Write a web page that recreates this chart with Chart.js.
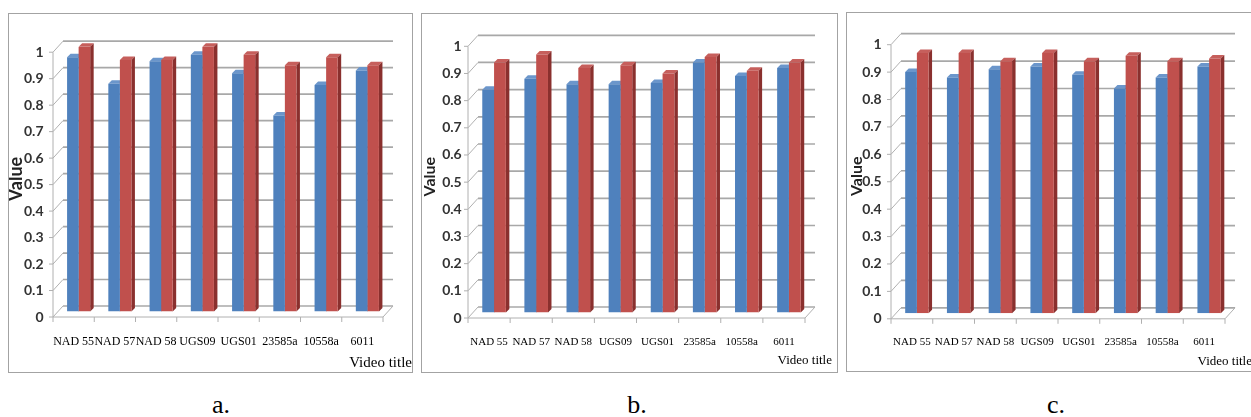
<!DOCTYPE html>
<html>
<head>
<meta charset="utf-8">
<script src="https://cdn.jsdelivr.net/npm/chart.js@4.4.1/dist/chart.umd.min.js"></script>
<style>
  html, body { margin: 0; padding: 0; background: #fff; width: 1251px; height: 417px; overflow: hidden; }
  .panel { position: absolute; border: 1px solid #a3a3a3; }
  .panel canvas { display: block; }
  .cap { position: absolute; font-family: 'Liberation Serif', 'Times New Roman', serif; font-size: 26px;
         color: #000; line-height: 1; transform: translate(-50%, -50%); white-space: nowrap; }
</style>
</head>
<body>
<div class="panel" id="pa"><canvas id="ca"></canvas></div>
<div class="panel" id="pb"><canvas id="cb"></canvas></div>
<div class="panel" id="pc"><canvas id="cc"></canvas></div>
<div class="cap" id="capa"></div>
<div class="cap" id="capb"></div>
<div class="cap" id="capc"></div>

<script>
// ---- data ----
const categories = ['NAD 55', 'NAD 57', 'NAD 58', 'UGS09', 'UGS01', '23585a', '10558a', '6011'];

const blueA = [0.96, 0.86, 0.945, 0.97, 0.90, 0.74, 0.855, 0.91];
const redA  = [1.00, 0.95, 0.95, 1.00, 0.97, 0.93, 0.96, 0.93];

const blueB = [0.82, 0.86, 0.84, 0.84, 0.845, 0.92, 0.87, 0.90];
const redB  = [0.92, 0.95, 0.90, 0.91, 0.88, 0.94, 0.89, 0.92];

const blueC = [0.88, 0.86, 0.89, 0.90, 0.87, 0.82, 0.86, 0.90];
const redC  = [0.95, 0.95, 0.92, 0.95, 0.92, 0.94, 0.92, 0.93];

const yTickLabels = ['0', '0.1', '0.2', '0.3', '0.4', '0.5', '0.6', '0.7', '0.8', '0.9', '1'];
const yTitle = 'Value';
const xTitle = 'Video title';
const captions = ['a.', 'b.', 'c.'];

// ---- look ----
const BLUE = '#4f81bd', BLUE_TOP = '#6b96cb', BLUE_SIDE = '#3a6497';
const RED = '#c0504d', RED_TOP = '#c65f5c', RED_SIDE = '#8a302e';

// Pseudo-3D walls, floor and bar faces, all placed from the chart's own scales and bar elements.
const depth3d = {
  id: 'depth3d',
  beforeDatasetsDraw(chart, args, o) {
    const { ctx, chartArea: a } = chart;
    const ys = chart.scales.y, xs = chart.scales.x;
    const dx = o.dx, dy = o.dy;
    const line = (x1, y1, x2, y2) => { ctx.beginPath(); ctx.moveTo(x1, y1); ctx.lineTo(x2, y2); ctx.stroke(); };
    ctx.save();
    // back wall gridlines
    ctx.strokeStyle = o.gridColor; ctx.lineWidth = o.gridWidth;
    ys.ticks.forEach(t => {
      const py = ys.getPixelForValue(t.value);
      line(a.left + dx, py - dy, a.right + dx, py - dy);
    });
    // side wall slants, front axis and its ticks
    ctx.strokeStyle = o.edgeColor; ctx.lineWidth = 1;
    ys.ticks.forEach(t => {
      const py = ys.getPixelForValue(t.value);
      line(a.left - dx, py + dy, a.left + dx, py - dy);
      line(a.left - dx - 4, py + dy, a.left - dx, py + dy);
    });
    const yTop = ys.getPixelForValue(ys.max), y0 = ys.getPixelForValue(0);
    line(a.left - dx, yTop + dy, a.left - dx, y0 + dy);
    // floor front edge and its right slant
    line(a.left - dx, y0 + dy, a.right - dx, y0 + dy);
    line(a.right - dx, y0 + dy, a.right + dx, y0 - dy);
    // category boundary ticks
    const n = chart.data.labels.length;
    for (let i = 0; i <= n; i++) {
      const px = xs.getPixelForValue(i - 0.5) - dx;
      line(px, y0 + dy, px, y0 + dy + 5);
    }
    // bar top and side faces (fronts are drawn by the bar controller afterwards)
    chart.data.datasets.forEach((ds, di) => {
      const meta = chart.getDatasetMeta(di);
      const topC = o.topColors[di], sideC = o.sideColors[di];
      meta.data.forEach(bar => {
        const p = bar.getProps(['x', 'y', 'base', 'width'], true);
        const l = p.x - p.width / 2, r = p.x + p.width / 2;
        ctx.fillStyle = topC;
        ctx.beginPath();
        ctx.moveTo(l, p.y); ctx.lineTo(r, p.y);
        ctx.lineTo(r + o.bx, p.y - o.by); ctx.lineTo(l + o.bx, p.y - o.by);
        ctx.closePath(); ctx.fill();
        ctx.fillStyle = sideC;
        ctx.beginPath();
        ctx.moveTo(r, p.y); ctx.lineTo(r + o.bx, p.y - o.by);
        ctx.lineTo(r + o.bx, p.base - o.by); ctx.lineTo(r, p.base);
        ctx.closePath(); ctx.fill();
      });
    });
    ctx.restore();
  }
};

const panels = [
  { div: 'pa', canvas: 'ca', cap: 'capa', left: 8, top: 13, w: 403, h: 358,
    blue: blueA, red: redA, padTop: 32.7, yWidth: 49, spacer: 24, padRight: 0, xHeight: 42.5,
    tickPad: 14.5, xPad: 23, xFont: 12, titleFont: 15, titlePadBottom: 0, yTitleFont: 18, yTitlePad: -1.5,
    capX: 221, capY: 405 },
  { div: 'pb', canvas: 'cb', cap: 'capb', left: 421, top: 13, w: 415, h: 358,
    blue: blueB, red: redB, padTop: 26.8, yWidth: 51, spacer: 22, padRight: 5, xHeight: 39.9,
    tickPad: 11.3, xPad: 22.6, xFont: 11, titleFont: 13, titlePadBottom: 4, yTitleFont: 16, yTitlePad: 0,
    capX: 637, capY: 405 },
  { div: 'pc', canvas: 'cc', cap: 'capc', left: 846, top: 12, w: 408, h: 358,
    blue: blueC, red: redC, padTop: 26.2, yWidth: 49, spacer: 22, padRight: 3, xHeight: 40.6,
    tickPad: 14.3, xPad: 21.8, xFont: 11, titleFont: 13, titlePadBottom: 1.5, yTitleFont: 16, yTitlePad: 1.5,
    capX: 1056, capY: 405 }
];

panels.forEach((p, idx) => {
  const div = document.getElementById(p.div);
  div.style.left = p.left + 'px';
  div.style.top = p.top + 'px';
  const cv = document.getElementById(p.canvas);
  cv.width = p.w; cv.height = p.h;
  cv.style.width = p.w + 'px'; cv.style.height = p.h + 'px';

  const cap = document.getElementById(p.cap);
  cap.textContent = captions[idx];
  cap.style.left = p.capX + 'px';
  cap.style.top = p.capY + 'px';

  new Chart(cv, {
    type: 'bar',
    data: {
      labels: categories,
      datasets: [
        { data: p.blue, backgroundColor: BLUE, borderWidth: 0, yAxisID: 'y',
          categoryPercentage: 0.56, barPercentage: 1.0 },
        { data: p.red, backgroundColor: RED, borderWidth: 0, yAxisID: 'y',
          categoryPercentage: 0.56, barPercentage: 1.0 }
      ]
    },
    options: {
      responsive: false,
      animation: false,
      devicePixelRatio: 1,
      layout: { padding: { top: p.padTop, left: 0, right: p.padRight, bottom: 0 } },
      plugins: {
        legend: { display: false },
        tooltip: { enabled: false },
        title: {
          display: true, text: xTitle, position: 'bottom', align: 'end',
          color: '#000', padding: { top: 0, bottom: p.titlePadBottom },
          font: { family: "'Liberation Serif', 'Times New Roman', serif", size: p.titleFont, weight: 'normal', lineHeight: 1.2 }
        },
        depth3d: {
          dx: 5, dy: 5.5, bx: 3.5, by: 3.5,
          gridColor: '#a8a8a8', gridWidth: 1.7, edgeColor: '#b0b0b0',
          topColors: [BLUE_TOP, RED_TOP], sideColors: [BLUE_SIDE, RED_SIDE]
        }
      },
      scales: {
        x: {
          grid: { display: false, drawTicks: false },
          border: { display: false },
          ticks: {
            autoSkip: false, maxRotation: 0, minRotation: 0, padding: p.xPad, labelOffset: -5,
            color: '#000', font: { family: "'Liberation Serif', 'Times New Roman', serif", size: p.xFont }
          },
          afterFit: s => { s.height = p.xHeight; }
        },
        y: {
          position: 'left', min: 0, max: 1,
          grid: { display: false, drawTicks: false },
          border: { display: false },
          ticks: {
            stepSize: 0.1, padding: p.tickPad, labelOffset: 5.5, color: '#333',
            font: { family: "Lato, 'Liberation Sans', sans-serif", size: 14, weight: 'bold' },
            callback: (v, i) => yTickLabels[i]
          },
          title: {
            display: true, text: yTitle, color: '#222', padding: { top: p.yTitlePad, bottom: 0 },
            font: { family: "Lato, 'Liberation Sans', sans-serif", size: p.yTitleFont, weight: 'bold', lineHeight: 1 }
          },
          afterFit: s => { s.width = p.yWidth; }
        },
        yr: {
          position: 'right', display: true,
          grid: { display: false, drawTicks: false },
          border: { display: false },
          ticks: { display: false },
          afterFit: s => { s.width = p.spacer; }
        }
      }
    },
    plugins: [depth3d]
  });
});
</script>
</body>
</html>
